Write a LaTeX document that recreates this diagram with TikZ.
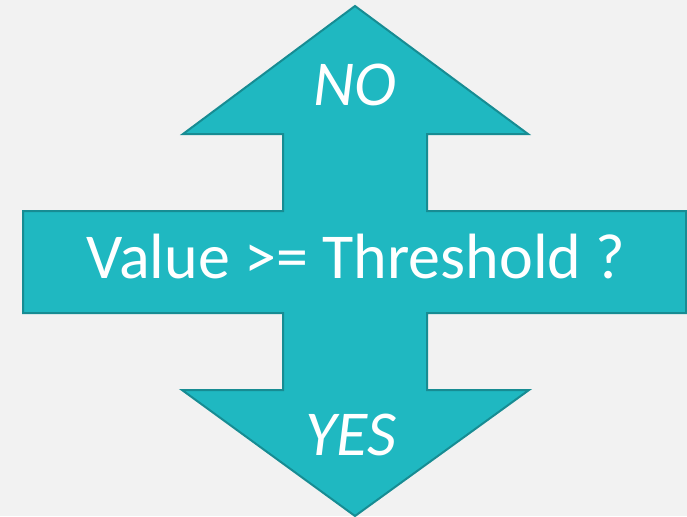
\documentclass[tikz,border=0pt]{standalone}
\usepackage{fontspec}
\setmainfont{Carlito}
\definecolor{bgc}{HTML}{F2F2F2}
\definecolor{tealfill}{HTML}{1FB8C1}
\definecolor{tealline}{HTML}{178C93}
\begin{document}
\begin{tikzpicture}[x=1pt,y=-1pt,
  lbl/.style={text=white,font=\fontsize{64}{70}\selectfont,inner sep=0pt,anchor=base}]
\fill[bgc] (0,0) rectangle (687,516);
\useasboundingbox (0,0) rectangle (687,516);
\draw[fill=tealfill,draw=tealline,line width=2pt,line join=miter]
  (355,6) -- (528,134) -- (427,134) -- (427,211) -- (686,211) -- (686,313)
  -- (427,313) -- (427,390) -- (529,390) -- (355,516) -- (182,390)
  -- (283,390) -- (283,313) -- (23,313) -- (23,211) -- (283,211)
  -- (283,134) -- (183,134) -- cycle;
\node[lbl] (no) at (355,106) {\itshape NO};
\node[lbl] (cond) at (356,278) {Value >= Threshold ?};
\node[lbl] (yes) at (351,455) {\itshape YES};
\end{tikzpicture}
\end{document}
